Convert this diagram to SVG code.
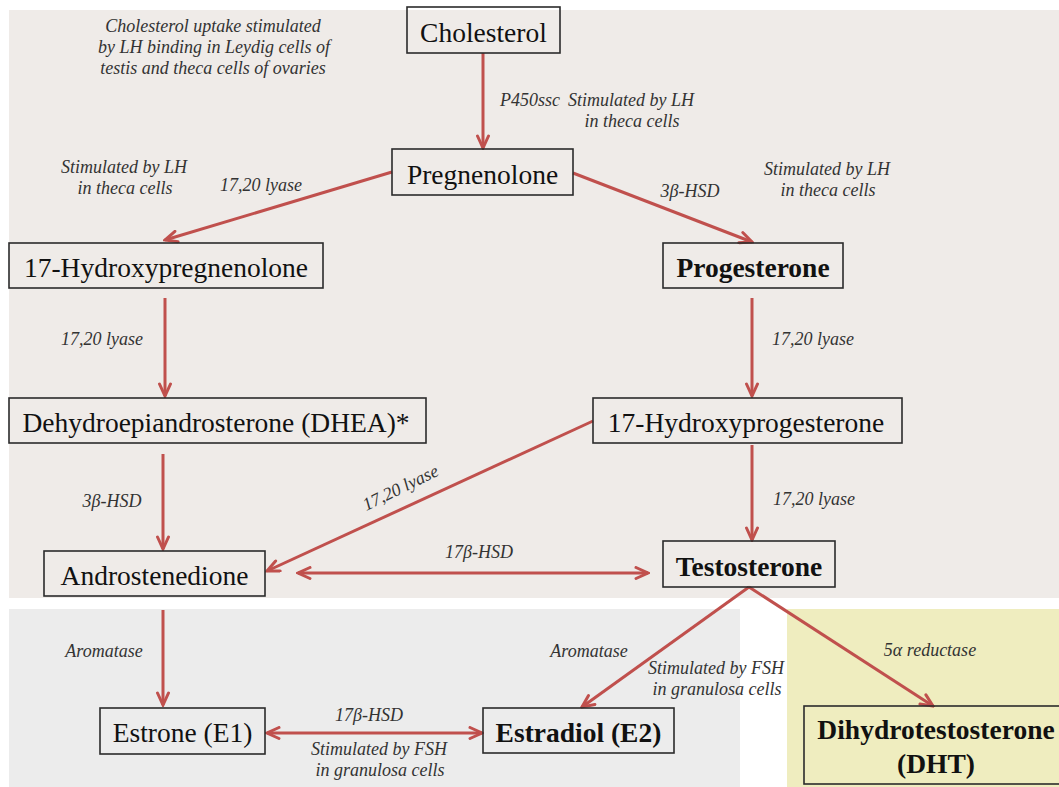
<svg xmlns="http://www.w3.org/2000/svg" width="1059" height="787" viewBox="0 0 1059 787">
<defs>
<style>
.box{fill:none;stroke:#2b2b2b;stroke-width:1.6}
.n{font-family:'Liberation Serif','DejaVu Serif',serif;font-size:27.5px;fill:#111;text-anchor:middle}
.b{font-weight:bold}
.l{font-family:'Liberation Serif','DejaVu Serif',serif;font-size:18px;font-style:italic;fill:#333;text-anchor:middle}
.c{fill:none;stroke:#c0504d;stroke-width:3}
.a{marker-end:url(#ah)}
.d{marker-start:url(#ah);marker-end:url(#ah)}
</style>
<marker id="ah" viewBox="0 0 16 14" refX="14" refY="7" markerWidth="16" markerHeight="14" markerUnits="userSpaceOnUse" orient="auto-start-reverse">
<path d="M2,1.5 L14,7 L2,12.5" fill="none" stroke="#c0504d" stroke-width="3" stroke-linecap="round"/>
</marker>
</defs>
<rect x="0" y="0" width="1059" height="787" fill="#ffffff"/>
<g id="backgrounds">
<rect x="9" y="10" width="1050" height="588" fill="#efebe8"/>
<rect x="9" y="609" width="731" height="178" fill="#ececec"/>
<rect x="787" y="609" width="272" height="178" fill="#efedbf"/>
</g>
<g id="connectors">
<line class="c a" x1="483" y1="53" x2="483" y2="148"/>
<line class="c a" x1="392" y1="172" x2="165" y2="240"/>
<line class="c a" x1="573" y1="173" x2="752" y2="242"/>
<line class="c a" x1="165" y1="298" x2="165" y2="396"/>
<line class="c a" x1="752" y1="298" x2="752" y2="396"/>
<line class="c a" x1="163" y1="454" x2="163" y2="549"/>
<line class="c a" x1="593" y1="421" x2="267" y2="571"/>
<line class="c a" x1="752" y1="445" x2="752" y2="540"/>
<line class="c d" x1="298" y1="573" x2="648" y2="573"/>
<line class="c a" x1="163" y1="610" x2="163" y2="705"/>
<line class="c d" x1="267" y1="733" x2="482" y2="733"/>
<line class="c a" x1="749" y1="587" x2="582" y2="707"/>
<line class="c a" x1="749" y1="587" x2="933" y2="706"/>
</g>
<g id="labels">
<text class="l" x="213" y="32">Cholesterol uptake stimulated</text>
<text class="l" x="214" y="53">by LH binding in Leydig cells of</text>
<text class="l" x="213" y="74">testis and theca cells of ovaries</text>
<text class="l" x="530" y="106">P450ssc</text>
<text class="l" x="631" y="106">Stimulated by LH</text>
<text class="l" x="632" y="127">in theca cells</text>
<text class="l" x="124" y="173">Stimulated by LH</text>
<text class="l" x="125" y="194">in theca cells</text>
<text class="l" x="261" y="191">17,20 lyase</text>
<text class="l" x="690" y="197">3β-HSD</text>
<text class="l" x="827" y="175">Stimulated by LH</text>
<text class="l" x="828" y="196">in theca cells</text>
<text class="l" x="102" y="345">17,20 lyase</text>
<text class="l" x="813" y="345">17,20 lyase</text>
<text class="l" x="112" y="507">3β-HSD</text>
<text class="l" transform="translate(403,493) rotate(-26)" x="0" y="0">17,20 lyase</text>
<text class="l" x="814" y="505">17,20 lyase</text>
<text class="l" x="479" y="558">17β-HSD</text>
<text class="l" x="104" y="657">Aromatase</text>
<text class="l" x="589" y="657">Aromatase</text>
<text class="l" x="716" y="674">Stimulated by FSH</text>
<text class="l" x="717" y="695">in granulosa cells</text>
<text class="l" x="930" y="656">5α reductase</text>
<text class="l" x="369" y="721">17β-HSD</text>
<text class="l" x="379" y="755">Stimulated by FSH</text>
<text class="l" x="380" y="776">in granulosa cells</text>
</g>
<g id="cholesterol"><rect class="box" x="407" y="7" width="153" height="46"/><text class="n" x="483.5" y="42">Cholesterol</text></g>
<g id="pregnenolone"><rect class="box" x="392" y="149" width="181" height="46"/><text class="n" x="482.5" y="184">Pregnenolone</text></g>
<g id="hydroxypregnenolone"><rect class="box" x="9" y="243" width="314" height="45"/><text class="n" x="166" y="277">17-Hydroxypregnenolone</text></g>
<g id="progesterone"><rect class="box" x="663" y="243" width="180" height="45"/><text class="n b" x="753" y="277">Progesterone</text></g>
<g id="dhea"><rect class="box" x="9" y="398" width="417" height="45"/><text class="n" x="216" y="432">Dehydroepiandrosterone (DHEA)*</text></g>
<g id="hydroxyprogesterone"><rect class="box" x="593" y="398" width="309" height="45"/><text class="n" x="746" y="432">17-Hydroxyprogesterone</text></g>
<g id="androstenedione"><rect class="box" x="44" y="551" width="221" height="45"/><text class="n" x="154.5" y="585">Androstenedione</text></g>
<g id="testosterone"><rect class="box" x="663" y="541" width="172" height="46"/><text class="n b" x="749" y="576">Testosterone</text></g>
<g id="estrone"><rect class="box" x="100" y="708" width="165" height="46"/><text class="n" x="182.5" y="742">Estrone (E1)</text></g>
<g id="estradiol"><rect class="box" x="483" y="708" width="191" height="45"/><text class="n b" x="578.5" y="742">Estradiol (E2)</text></g>
<g id="dht"><rect class="box" x="804" y="706" width="264" height="78"/><text class="n b" x="936" y="739">Dihydrotestosterone</text><text class="n b" x="936" y="773">(DHT)</text></g>
</svg>
